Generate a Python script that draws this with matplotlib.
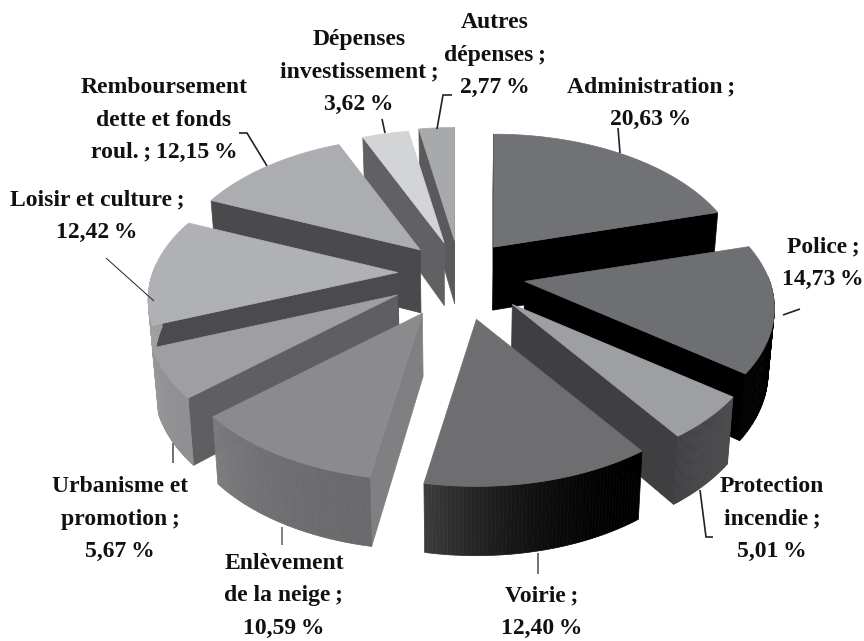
import numpy as np
import matplotlib
matplotlib.use("Agg")
import matplotlib.pyplot as plt
from matplotlib.patches import Polygon
from matplotlib.colors import to_rgb

categories = ["Administration", "Police", "Protection incendie", "Voirie", "Enlèvement de la neige",
              "Urbanisme et promotion", "Loisir et culture", "Remboursement dette et fonds roul.",
              "Dépenses investissement", "Autres dépenses"]
values = [20.63, 14.73, 5.01, 12.40, 10.59, 5.67, 12.42, 12.15, 3.62, 2.77]
label_texts = ["Administration\u2009;\n20,63\u2009%", "Police\u2009;\n14,73\u2009%",
               "Protection\nincendie\u2009;\n5,01\u2009%", "Voirie\u2009;\n12,40\u2009%",
               "Enlèvement\nde la neige\u2009;\n10,59\u2009%", "Urbanisme et\npromotion\u2009;\n5,67\u2009%",
               "Loisir et culture\u2009;\n12,42\u2009%", "Remboursement\ndette et fonds\nroul.\u2009;\u200912,15\u2009%",
               "Dépenses\ninvestissement\u2009;\n3,62\u2009%", "Autres\ndépenses\u2009;\n2,77\u2009%"]

# projection of the tilted pie, in pixels
cx, cy = 460, 273
rx, ry = 245, 134.8
persp = 0.193
depth = 63
explode = [0.25, 0.25, 0.28, 0.33, 0.27, 0.30, 0.25, 0.25, 0.27, 0.27]
# small extra shift of each slice, pixels
nudge = [(-2, 0), (4, 2), (3, 3), (-2, 0), (-4, 7), (2, 0), (-1, 0), (2, 0), (2, 3), (0, 2)]

# top, start wall, end wall, arc from, arc to
colors = [("#717275", "#000000", "#000000", "#000000", "#000000"),
          ("#6e6f72", "#000000", "#000000", "#000000", "#000000"),
          ("#9e9fa3", "#404042", "#3f3f41", "#4c4c4e", "#404042"),
          ("#6e6e70", "#3a3a3a", "#3a3a3a", "#000000", "#3c3c3c"),
          ("#8b8b8d", "#808082", "#808082", "#6a6a6c", "#7c7c7e"),
          ("#9f9fa2", "#5f5f61", "#5f5f61", "#909092", "#98989a"),
          ("#b0b1b4", "#4b4b4d", "#4b4b4d", "#a0a0a2", "#a0a0a2"),
          ("#acadb0", "#4a4a4c", "#4a4a4c", "#a0a0a2", "#a0a0a2"),
          ("#d3d4d6", "#616163", "#616163", "#b0b0b2", "#b0b0b2"),
          ("#a8a9ab", "#5a5a5c", "#5a5a5c", "#909092", "#909092")]

# back to front
draw_order = [9, 8, 7, 0, 6, 1, 5, 2, 4, 3]

label_pos = [(651, 103), (823, 263), (772, 519), (542, 612), (284, 596), (120, 519), (97, 216), (164, 120),
             (359, 72), (495, 55)]

# leader lines
leaders = [([620, 618], [153, 128], "#222222", 1.2),
           ([783, 800], [315, 309], "#222222", 1.2),
           ([700, 706, 713], [490, 537, 537], "#222222", 1.2),
           ([538, 538], [553, 574], "#666666", 1.3),
           ([282, 282], [527, 545], "#777777", 1.3),
           ([173, 173], [443, 463], "#666666", 1.3),
           ([106, 154], [258, 301], "#222222", 0.7),
           ([239, 247, 267], [133, 133, 166], "#222222", 1.2),
           ([382, 385], [119, 133], "#222222", 1.2),
           ([452, 443, 437], [95, 95, 129], "#222222", 1.2)]


def project(u, v):
    w = 1 / (1 + persp * v)
    return rx * u * w, -ry * v * w


def lower(p, v):
    # same point on the underside of the slice
    return cx + (p[0] - cx) * 0.98, p[1] + depth * (1 - 0.1 * v)


fig = plt.figure(figsize=(8.64, 6.41), dpi=100)
ax = fig.add_axes([0, 0, 1, 1])
ax.set_xlim(0, 864)
ax.set_ylim(641, 0)
ax.axis("off")

cum = np.cumsum([0] + values) / sum(values)
angles = np.pi / 2 - 2 * np.pi * cum


def draw_slice(i):
    a0, a1 = angles[i], angles[i + 1]
    mid = (a0 + a1) / 2
    ex, ey = project(explode[i] * np.cos(mid), explode[i] * np.sin(mid))
    apex = (cx + ex + nudge[i][0], cy + ey + nudge[i][1])
    apex_low = lower(apex, 0)

    def rim(a):
        x, y = project(np.cos(a), np.sin(a))
        return apex[0] + x, apex[1] + y

    t = np.linspace(a0, a1, 60)
    top, wall0, wall1, arc0, arc1 = colors[i]

    # radial walls, only when they face the viewer
    if np.cos(a0) < 0.01:
        p = [apex, rim(a0), lower(rim(a0), np.sin(a0)), apex_low]
        ax.add_patch(Polygon(p, closed=True, fc=wall0, ec=wall0, lw=0.5))
    if np.cos(a1) > 0:
        p = [apex, rim(a1), lower(rim(a1), np.sin(a1)), apex_low]
        ax.add_patch(Polygon(p, closed=True, fc=wall1, ec=wall1, lw=0.5))
    # outer wall, split so the shade can change along it
    c0, c1 = np.array(to_rgb(arc0)), np.array(to_rgb(arc1))
    for k in range(len(t) - 1):
        if np.sin(t[k]) > 0.05:
            continue
        f = (k / (len(t) - 2)) ** 2
        col = c0 + (c1 - c0) * f
        p = [rim(t[k]), rim(t[k + 1]), lower(rim(t[k + 1]), np.sin(t[k + 1])), lower(rim(t[k]), np.sin(t[k]))]
        ax.add_patch(Polygon(p, closed=True, fc=col, ec=col, lw=0.5))
    # top face
    p = [apex] + [rim(a) for a in t]
    ax.add_patch(Polygon(p, closed=True, fc=top, ec=top, lw=0.5))


for i in draw_order:
    draw_slice(i)

for xs, ys, col, lw in leaders:
    ax.plot(xs, ys, color=col, lw=lw, solid_capstyle="butt", solid_joinstyle="miter")

for txt, (x, y) in zip(label_texts, label_pos):
    ax.text(x, y, txt, ha="center", va="center", family="Liberation Serif", fontweight="bold",
            fontsize=17, linespacing=1.72, color="#111111")

fig.savefig("out.png", dpi=100)
